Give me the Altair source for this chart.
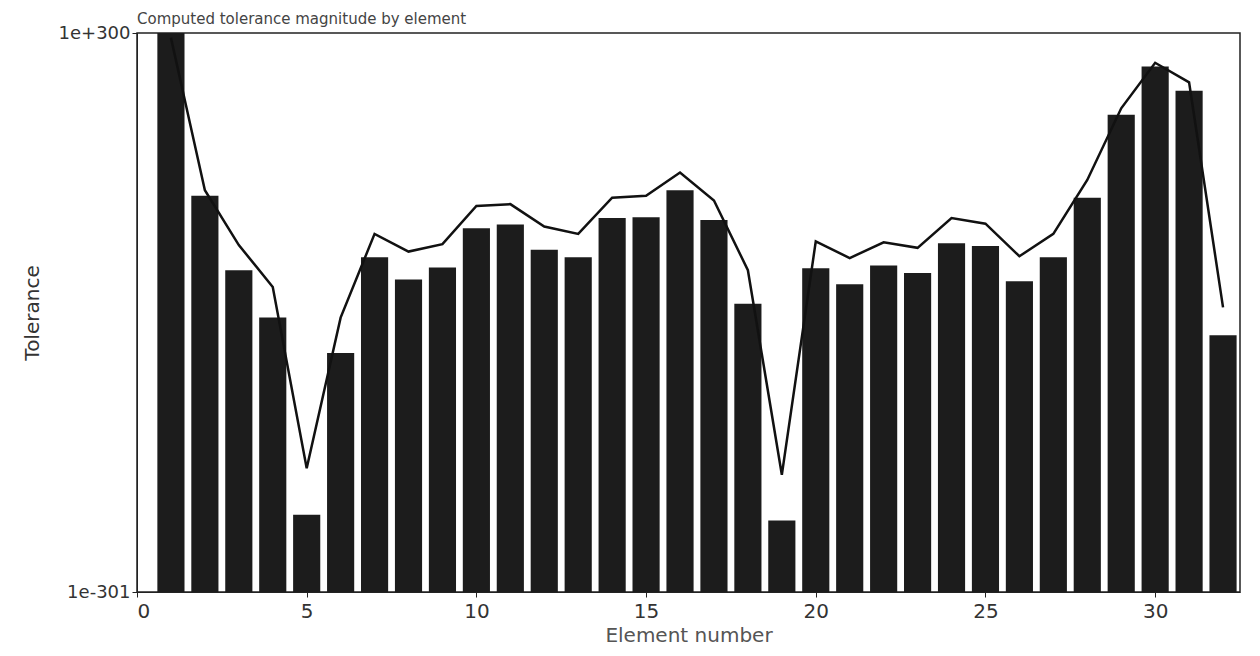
import altair as alt
import pandas as pd

# Element numbers
elements = list(range(1, 33))

# Bar heights, read as powers of ten (log10 of value)
bar_exp = [300, 125, 45, -6, -218, -44, 59, 35, 48, 90, 94, 67, 59, 101, 102, 131,
           99, 9, -224, 47, 30, 50, 42, 74, 71, 33, 59, 123, 212, 264, 238, -25]

# Line values, read as powers of ten (log10 of value)
line_exp = [295, 131, 72, 27, -168, -6, 84, 65, 73, 114, 116, 92, 84, 123, 125, 150,
            120, 45, -175, 76, 58, 75, 69, 101, 95, 60, 84, 142, 219, 268, 247, 5]

x_ticks = [0, 5, 10, 15, 20, 25, 30]
y_ticks = [1e-301, 1e300]
y_floor = 1e-301

df = pd.DataFrame({
    "element": elements,
    "bar": [10.0 ** e for e in bar_exp],
    "line": [10.0 ** e for e in line_exp],
    "floor": [y_floor] * len(elements),
})

FONT = "DejaVu Sans"

xscale = alt.Scale(domain=[0, 32.5], nice=False, zero=False)
yscale = alt.Scale(type="log", domain=[1e-301, 1e300], nice=False)

base = alt.Chart(df)

bars = base.transform_calculate(
    x0="datum.element - 0.4", x1="datum.element + 0.4"
).mark_bar(color="#1c1c1c", clip=True).encode(
    x=alt.X("x0:Q", scale=xscale,
            axis=alt.Axis(values=x_ticks, title="Element number", grid=False,
                          labelFontSize=20, titleFontSize=20, labelColor="#333",
                          titleColor="#555", titleFontWeight="normal",
                          domainColor="#222", tickColor="#222", labelPadding=4,
                          titlePadding=4)),
    x2="x1:Q",
    y=alt.Y("bar:Q", scale=yscale,
            axis=alt.Axis(values=y_ticks, format=".0e", title="Tolerance", grid=False,
                          labelFontSize=18, titleFontSize=20, labelColor="#333",
                          titleColor="#333", titleFontWeight="normal",
                          domainColor="#222", tickColor="#222", titlePadding=16)),
    y2="floor:Q",
)

line = base.mark_line(color="#111111", strokeWidth=2.5, clip=True).encode(
    x=alt.X("element:Q", scale=xscale),
    y=alt.Y("line:Q", scale=yscale),
)

chart = (bars + line).properties(
    width=1103,
    height=559,
    title=alt.TitleParams("Computed tolerance magnitude by element", fontSize=15,
                          font=FONT, fontWeight="normal", color="#444",
                          anchor="start", frame="group", offset=0, dy=18,
                          baseline="bottom"),
    autosize=alt.AutoSizeParams(type="none"),
    padding={"left": 129, "top": 25, "right": 12, "bottom": 56},
).configure(font=FONT).configure_view(stroke="#222", strokeWidth=1.5)

chart.save("out.html", embed_options={"renderer": "svg", "actions": False})
